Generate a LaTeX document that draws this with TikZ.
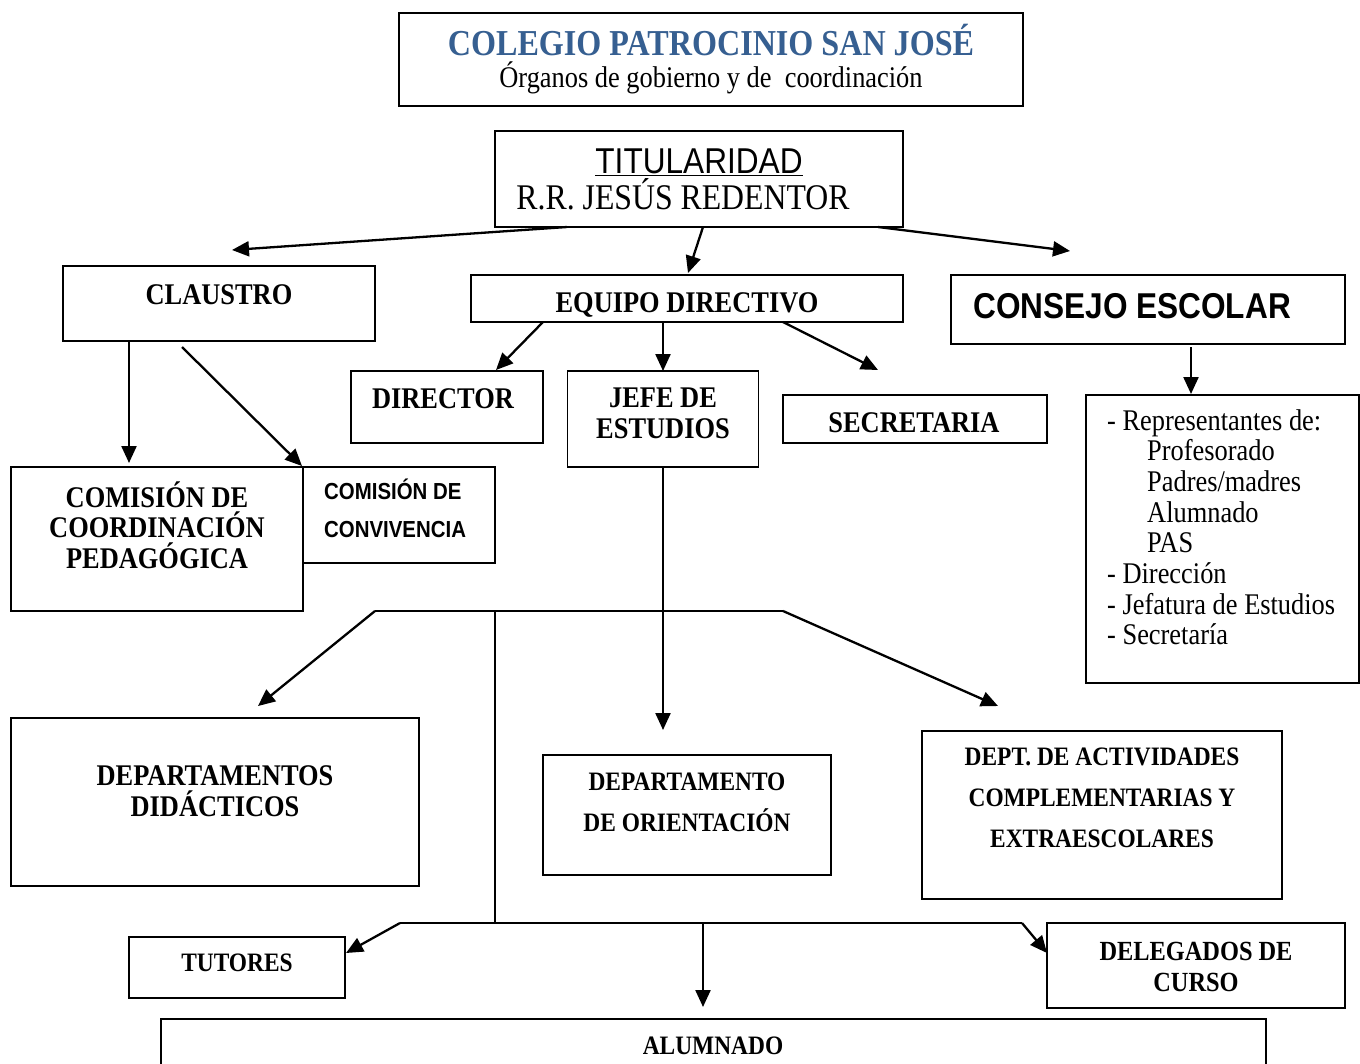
\documentclass[tikz,border=0pt]{standalone}
\usepackage{fontspec}
\setmainfont[FakeStretch=0.88]{Liberation Serif}
\newfontfamily\arialfont[FakeStretch=0.88]{Liberation Sans}
\usetikzlibrary{arrows.meta, calc}
\definecolor{tituloazul}{RGB}{54,95,145}

\begin{document}
\begin{tikzpicture}[x=1pt, y=-1pt,
    caja/.style={draw, line width=1.9pt, inner sep=0pt, outer sep=0pt},
    texto/.style={inner sep=0pt, align=center},
    negrita/.style={texto, font=\fontsize{30}{31}\selectfont\bfseries},
    menor/.style={texto, font=\fontsize{26.6}{41}\selectfont\bfseries},
    flecha/.style={line width=2.3pt, -{Triangle[length=17pt, width=15pt]}},
    linea/.style={line width=1.9pt}]
    \clip (0,0) rectangle (1360,1063);
    \fill[white] (0,0) rectangle (1360,1063);

    % cajas
    \node[caja, minimum width=624, minimum height=93] (cabecera) at (711,59.5) {};
    \node[caja, minimum width=408, minimum height=96] (titular) at (699,179) {};
    \node[caja, minimum width=312, minimum height=75] (claustro) at (219,303.5) {};
    \node[caja, minimum width=432, minimum height=47] (equipo) at (687,298.5) {};
    \node[caja, minimum width=394, minimum height=69] (consejo) at (1148,309.5) {};
    \node[caja, minimum width=192, minimum height=72] (director) at (447,407) {};
    \node[caja, minimum width=191, minimum height=96] (jefe) at (663,419) {};
    \node[caja, minimum width=264, minimum height=48] (secretaria) at (915,419) {};
    \node[caja, minimum width=273, minimum height=288] (miembros) at (1222.5,539) {};
    \node[caja, minimum width=292, minimum height=144] (ccp) at (157,539) {};
    \node[caja, minimum width=192, minimum height=96] (conviv) at (399,515) {};
    \node[caja, minimum width=408, minimum height=168] (didact) at (215,802) {};
    \node[caja, minimum width=288, minimum height=120] (orient) at (687,815) {};
    \node[caja, minimum width=360, minimum height=168] (extraesc) at (1102,815) {};
    \node[caja, minimum width=216, minimum height=61] (tutores) at (237,967.5) {};
    \node[caja, minimum width=298, minimum height=85] (delegados) at (1196,965.5) {};
    \node[caja, minimum width=1105, minimum height=71] (alumnado) at (713.5,1054.5) {};

    % textos
    \node[texto, anchor=base, text=tituloazul, font=\fontsize{36.5}{40}\selectfont\bfseries] (cabecera-t) at (711,55) {COLEGIO PATROCINIO SAN JOSÉ};
    \node[texto, anchor=base, font=\fontsize{30}{36}\selectfont] (cabecera-s) at (711,87) {Órganos de gobierno y de \ coordinación};
    \node[texto, anchor=base, font=\fontsize{35.9}{40}\selectfont\arialfont] (titular-t) at (699,173) {\underline{TITULARIDAD}};
    \node[texto, anchor=base, font=\fontsize{36.1}{40}\selectfont] (titular-s) at (683,209) {R.R. JESÚS REDENTOR};
    \node[negrita, anchor=base] (claustro-t) at (219,304) {CLAUSTRO};
    \node[negrita, anchor=base] (equipo-t) at (687,312) {EQUIPO DIRECTIVO};
    \node[texto, anchor=base west, font=\fontsize{35.9}{40}\selectfont\arialfont\bfseries] (consejo-t) at (973,318) {CONSEJO ESCOLAR};
    \node[negrita, anchor=base] (director-t) at (443,408) {DIRECTOR};
    \node[negrita] (jefe-t) at (663,413.5) {JEFE DE\\ESTUDIOS};
    \node[negrita, anchor=base] (secretaria-t) at (914,432) {SECRETARIA};
    \node[texto, anchor=north west, align=left, font=\fontsize{30}{30.7}\selectfont] (miembros-t) at (1107,409)
        {- Representantes de:\\
         \hspace*{40pt}Profesorado\\
         \hspace*{40pt}Padres/madres\\
         \hspace*{40pt}Alumnado\\
         \hspace*{40pt}PAS\\
         - Dirección\\
         - Jefatura de Estudios\\
         - Secretaría};
    \node[negrita, font=\fontsize{30}{30.5}\selectfont\bfseries] (ccp-t) at (157,525) {COMISIÓN DE\\COORDINACIÓN\\PEDAGÓGICA};
    \node[texto, anchor=west, align=left, font=\fontsize{23.2}{38}\selectfont\arialfont\bfseries] (conviv-t) at (324,508) {COMISIÓN DE\\CONVIVENCIA};
    \node[negrita] (didact-t) at (215,791) {DEPARTAMENTOS\\DIDÁCTICOS};
    \node[menor] (orient-t) at (687,802) {DEPARTAMENTO\\DE ORIENTACIÓN};
    \node[menor] (extraesc-t) at (1102,798) {DEPT. DE ACTIVIDADES\\COMPLEMENTARIAS Y\\EXTRAESCOLARES};
    \node[menor, anchor=base] (tutores-t) at (237,971) {TUTORES};
    \node[negrita, font=\fontsize{27.7}{31}\selectfont\bfseries] (delegados-t) at (1196,966.5) {DELEGADOS DE\\CURSO};
    \node[menor, anchor=base] (alumnado-t) at (713,1054) {ALUMNADO};

    % flechas de arriba
    \draw[flecha] ($(titular.south)+(-132,0)$) -- ($(claustro.north)+(13,-16)$);
    \draw[flecha] ($(titular.south)+(4,0)$) -- ($(equipo.north)+(1,-2)$);
    \draw[flecha] ($(titular.south)+(179,0)$) -- ($(consejo.north)+(-78,-24)$);
    \draw[flecha] ($(claustro.south)+(-90,0)$) -- ($(ccp.north)+(-28,-4)$);
    \draw[flecha] ($(claustro.south)+(-37,6)$) -- ($(conviv.north west)+(-1,-1)$);
    \draw[flecha] ($(equipo.south)+(-144,0)$) -- ($(director.north)+(49,-1)$);
    \draw[flecha] ($(equipo.south)+(-24,0)$) -- (jefe.north);
    \draw[flecha] ($(equipo.south)+(96,0)$) -- ($(secretaria.north)+(-37,-25)$);
    \draw[flecha] ($(consejo.south)+(43,3)$) -- ($(miembros.north)+(-31.5,-1)$);
    \draw[flecha] (jefe.south) -- ($(orient.north)+(-24,-25)$);

    % ramas de abajo
    \coordinate (barraI) at (375,611);
    \coordinate (barraD) at (783,611);
    \coordinate (troncoA) at (495,611);
    \coordinate (troncoB) at (495,923);
    \coordinate (bajaI) at (400,923);
    \coordinate (bajaD) at (1022,923);
    \coordinate (bajaC) at (703,923);
    \draw[linea] (barraI) -- (barraD);
    \draw[linea] (troncoA) -- (troncoB);
    \draw[linea] (bajaI) -- (bajaD);
    \draw[flecha] (barraI) -- ($(didact.north)+(43,-12)$);
    \draw[flecha] (barraD) -- ($(extraesc.north)+(-104,-25)$);
    \draw[flecha] (bajaI) -- ($(tutores.north east)+(1,16)$);
    \draw[flecha] (bajaD) -- ($(delegados.north west)+(0,30)$);
    \draw[flecha] (bajaC) -- ($(alumnado.north)+(-10.5,-12)$);
\end{tikzpicture}
\end{document}
